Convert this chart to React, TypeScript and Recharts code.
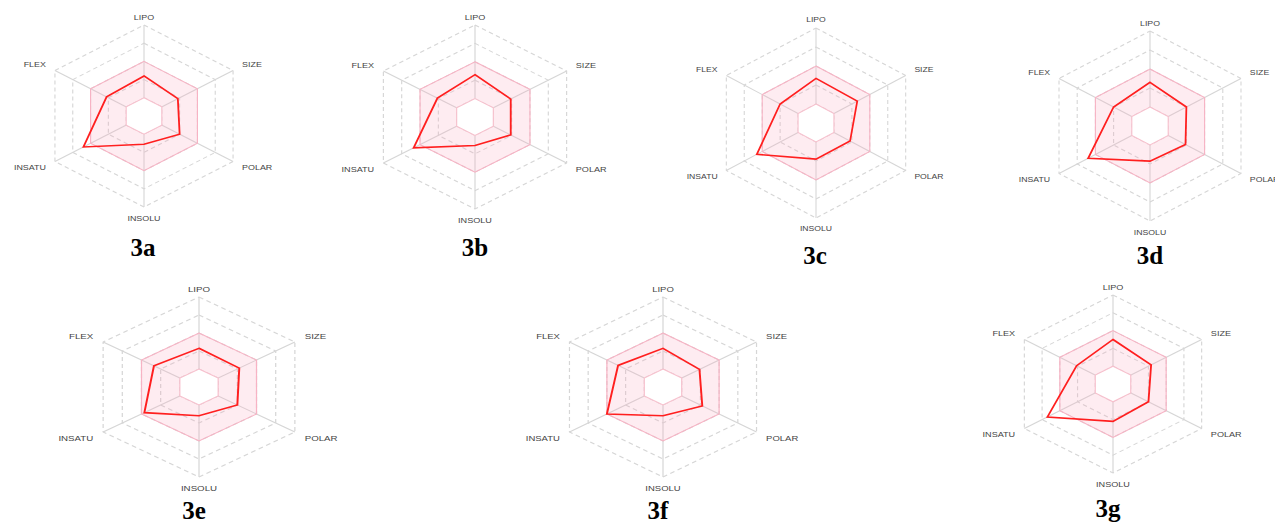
import { PolarAngleAxis, PolarGrid, PolarRadiusAxis, Radar, RadarChart } from 'recharts'

// bioavailability radar axes, clockwise from the top
const axes = ['LIPO', 'SIZE', 'POLAR', 'INSOLU', 'INSATU', 'FLEX']

// optimal (pink) band limits on the 0-5 radial scale
const optimalMin = [1, 1, 1, 1, 1, 1]
const optimalMax = [3, 3, 3, 3, 3, 3]

const values3a = [2.2, 1.9, 2.0, 1.55, 3.4, 2.1]
const values3b = [2.3, 1.95, 1.95, 1.55, 3.35, 2.05]
const values3c = [2.35, 2.3, 1.9, 1.9, 3.3, 2.0]
const values3d = [2.3, 2.0, 1.95, 1.85, 3.4, 2.0]
const values3e = [2.15, 2.1, 2.0, 1.6, 2.85, 2.35]
const values3f = [2.15, 1.95, 2.1, 1.6, 3.0, 2.4]
const values3g = [2.5, 2.15, 2.0, 2.1, 3.7, 2.05]

const panelLabels = ['3a', '3b', '3c', '3d', '3e', '3f', '3g']
const panelValues = [values3a, values3b, values3c, values3d, values3e, values3f, values3g]

// layout of each panel on the page: centre, radius, horizontal stretch, caption position
const layout = [
  { x: 144, y: 115.5, r: 91, sx: 1.13, tx: 143, ty: 256 },
  { x: 475, y: 117, r: 92, sx: 1.15, tx: 475, ty: 256 },
  { x: 816, y: 123, r: 95, sx: 1.09, tx: 815, ty: 264 },
  { x: 1150, y: 125.5, r: 95, sx: 1.106, tx: 1150, ty: 264 },
  { x: 199, y: 387, r: 90, sx: 1.23, tx: 194, ty: 519 },
  { x: 663, y: 387, r: 90, sx: 1.2, tx: 658, ty: 519 },
  { x: 1113, y: 384, r: 89, sx: 1.15, tx: 1108, ty: 517 },
]

const BOX_W = 320
const BOX_H = 260
const CX = 160
const CY = 130

const gridColor = '#d6d6d6'
const labelColor = '#444444'

function makeTick(r: number) {
  return (props: any) => {
    const i: number = props.index ?? 0
    const angle = ((90 - i * 60) * Math.PI) / 180
    const cos = Math.cos(angle)
    const sin = Math.sin(angle)
    let x = CX
    let y = CY
    let anchor: 'start' | 'middle' | 'end' = 'middle'
    if (Math.abs(cos) < 0.01) {
      y = sin > 0 ? CY - r - 8 : CY + r + 11
    } else {
      x = CX + cos * r + (cos > 0 ? 8 : -8)
      y = CY - sin * r + (sin > 0 ? -6 : 6)
      anchor = cos > 0 ? 'start' : 'end'
    }
    return (
      <text
        x={x}
        y={y}
        textAnchor={anchor}
        dominantBaseline="central"
        fill={labelColor}
        fontSize={7.9}
        fontFamily="'Liberation Sans', Arial, sans-serif"
      >
        {axes[i]}
      </text>
    )
  }
}

interface PanelProps {
  values: number[]
  x: number
  y: number
  r: number
  sx: number
}

function RadarPanel({ values, x, y, r, sx }: PanelProps) {
  const data = axes.map((axis, i) => ({
    axis,
    value: values[i],
    low: optimalMin[i],
    high: optimalMax[i],
  }))

  return (
    <div
      style={{
        position: 'absolute',
        left: x - CX,
        top: y - CY,
        width: BOX_W,
        height: BOX_H,
        transform: `scaleX(${sx})`,
        transformOrigin: `${CX}px ${CY}px`,
      }}
    >
      <RadarChart
        width={BOX_W}
        height={BOX_H}
        data={data}
        cx={CX}
        cy={CY}
        outerRadius={r}
        margin={{ top: 0, right: 0, bottom: 0, left: 0 }}
      >
        <PolarRadiusAxis domain={[0, 5]} tickCount={6} tick={false} axisLine={false} />
        <PolarGrid gridType="polygon" radialLines={false} stroke={gridColor} strokeDasharray="4 3" />
        <PolarGrid gridType="polygon" polarRadius={[]} stroke={gridColor} />
        <Radar
          dataKey="high"
          fill="#f9a9c0"
          fillOpacity={0.22}
          stroke="#f7b3c4"
          strokeWidth={1}
          dot={false}
          isAnimationActive={false}
        />
        <Radar
          dataKey="low"
          fill="#ffffff"
          fillOpacity={1}
          stroke="#f7c0cd"
          strokeWidth={1}
          dot={false}
          isAnimationActive={false}
        />
        <Radar
          dataKey="value"
          fill="none"
          fillOpacity={0}
          stroke="#ff1f1f"
          strokeWidth={1.6}
          dot={{ r: 1.6, fill: '#e00000', stroke: 'none' }}
          isAnimationActive={false}
        />
        <PolarAngleAxis dataKey="axis" tick={makeTick(r)} tickLine={false} axisLine={false} />
      </RadarChart>
    </div>
  )
}

export default function App() {
  return (
    <div
      style={{
        position: 'fixed',
        left: 0,
        top: 0,
        width: 1275,
        height: 526,
        background: '#ffffff',
        overflow: 'hidden',
      }}
    >
      {panelLabels.map((label, i) => (
        <RadarPanel key={label} values={panelValues[i]} {...layout[i]} />
      ))}
      <svg
        width={1275}
        height={526}
        style={{ position: 'absolute', left: 0, top: 0, pointerEvents: 'none' }}
      >
        {panelLabels.map((label, i) => (
          <text
            key={label}
            x={layout[i].tx}
            y={layout[i].ty}
            textAnchor="middle"
            fontSize={25}
            fontWeight="bold"
            fontFamily="'Liberation Serif', 'Times New Roman', serif"
            fill="#000000"
          >
            {label}
          </text>
        ))}
      </svg>
    </div>
  )
}
